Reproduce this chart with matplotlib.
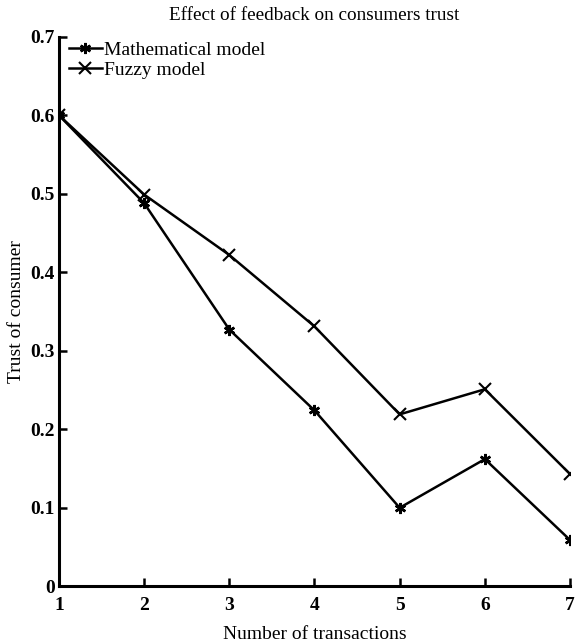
import matplotlib
matplotlib.use("Agg")
import matplotlib.pyplot as plt

transactions = [1, 2, 3, 4, 5, 6, 7]
math_trust = [0.600, 0.488, 0.327, 0.224, 0.100, 0.162, 0.059]
fuzzy_trust = [0.600, 0.499, 0.422, 0.331, 0.219, 0.251, 0.143]
y_ticks = [0, 0.1, 0.2, 0.3, 0.4, 0.5, 0.6, 0.7]
y_tick_labels = ["0", "0.1", "0.2", "0.3", "0.4", "0.5", "0.6", "0.7"]

plt.rcParams['font.family'] = ['Liberation Serif', 'DejaVu Serif']

fig = plt.figure(figsize=(5.76, 6.43), dpi=100)
ax = fig.add_axes([0.1024, 0.0882, 0.8872, 0.8546])

ax.plot(transactions, math_trust, 'k-', marker=(6, 2, 0), markersize=8,
        markeredgewidth=1.8, linewidth=1.8, label='Mathematical model')
ax.plot(transactions, fuzzy_trust, 'k-', marker='x', markersize=8,
        markeredgewidth=1.5, linewidth=1.8, label='Fuzzy model')

ax.set_xlim(1, 7)
ax.set_ylim(0, 0.7)
ax.set_xticks(transactions)
ax.set_yticks(y_ticks)
ax.set_yticklabels(y_tick_labels)

for side in ['top', 'right']:
    ax.spines[side].set_visible(False)
for side in ['left', 'bottom']:
    ax.spines[side].set_linewidth(2.2)
ax.tick_params(direction='in', length=6, width=1.8, labelsize=14)
ax.tick_params(axis='x', pad=8)
ax.tick_params(axis='y', pad=3)
for lbl in ax.get_xticklabels() + ax.get_yticklabels():
    lbl.set_fontweight('bold')

ax.set_title('Effect of feedback on consumers trust', fontsize=13.8, pad=12)
ax.set_xlabel('Number of transactions', fontsize=14, labelpad=8)
ax.set_ylabel('Trust of consumer', fontsize=14, labelpad=4)

# legend sits in the empty top-left corner, no frame
ax.legend(loc='upper left', bbox_to_anchor=(-0.008, 1.017), frameon=False,
          fontsize=14, handlelength=1.7, handletextpad=0.1,
          labelspacing=0.15, borderaxespad=0.3)

fig.savefig('out.png', dpi=100)
